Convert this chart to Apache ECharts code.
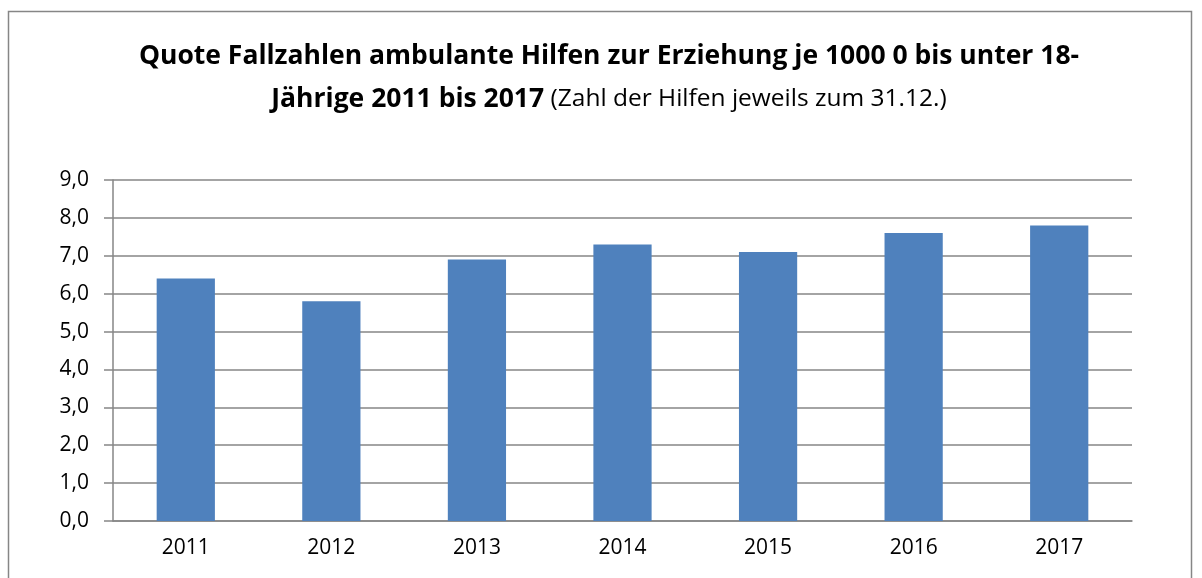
<!DOCTYPE html>
<html>
<head>
<meta charset="utf-8">
<script src="https://cdn.jsdelivr.net/npm/echarts@6/dist/echarts.min.js"></script>
<style>
  html, body { margin: 0; padding: 0; background: #fff; }
  #main { width: 1202px; height: 578px; }
</style>
</head>
<body>
<div id="main"></div>
<script>
// Jahre und Quoten je 1000
const years = ['2011', '2012', '2013', '2014', '2015', '2016', '2017'];
const quote = [6.4, 5.8, 6.9, 7.3, 7.1, 7.6, 7.8];

const chart = echarts.init(document.getElementById('main'));
const font = "'Open Sans', 'Noto Sans', sans-serif";

const option = {
  backgroundColor: '#fff',
  animation: false,
  graphic: [
    {
      type: 'rect',
      shape: { x: 8.5, y: 11.5, width: 1183, height: 600 },
      style: { fill: 'none', stroke: '#868686', lineWidth: 1.5 }
    },
    {
      type: 'text',
      x: 609,
      y: 35,
      style: {
        text: '{b|Quote Fallzahlen ambulante Hilfen zur Erziehung je 1000 0 bis unter 18-}\n{b|Jährige 2011 bis 2017}{n| (Zahl der Hilfen jeweils zum 31.12.)}',
        align: 'center',
        verticalAlign: 'top',
        rich: {
          b: { fontFamily: font, fontWeight: 'bold', fontSize: 26.5, lineHeight: 43, fill: '#000' },
          n: { fontFamily: font, fontWeight: 'normal', fontSize: 24.5, lineHeight: 43, fill: '#000' }
        }
      }
    }
  ],
  grid: { left: 113, right: 70, top: 180, bottom: 57 },
  xAxis: {
    type: 'category',
    data: years,
    axisLine: { lineStyle: { color: '#868686', width: 1.5 } },
    axisTick: { length: 7, lineStyle: { color: '#868686', width: 1.5 } },
    axisLabel: { color: '#000', fontFamily: font, fontSize: 21, margin: 17 }
  },
  yAxis: {
    type: 'value',
    min: 0,
    max: 9,
    interval: 1,
    axisLine: { show: true, lineStyle: { color: '#868686', width: 1.5 } },
    axisTick: { show: true, length: 9, lineStyle: { color: '#868686', width: 1.5 } },
    splitLine: { lineStyle: { color: '#868686', width: 1.5 } },
    axisLabel: {
      color: '#000', fontFamily: font, fontSize: 21, margin: 24,
      formatter: (v) => v.toFixed(1).replace('.', ',')
    }
  },
  series: [
    {
      type: 'bar',
      data: quote,
      barCategoryGap: '60%',
      itemStyle: { color: '#4F81BD' }
    }
  ]
};

chart.setOption(option);
</script>
</body>
</html>
